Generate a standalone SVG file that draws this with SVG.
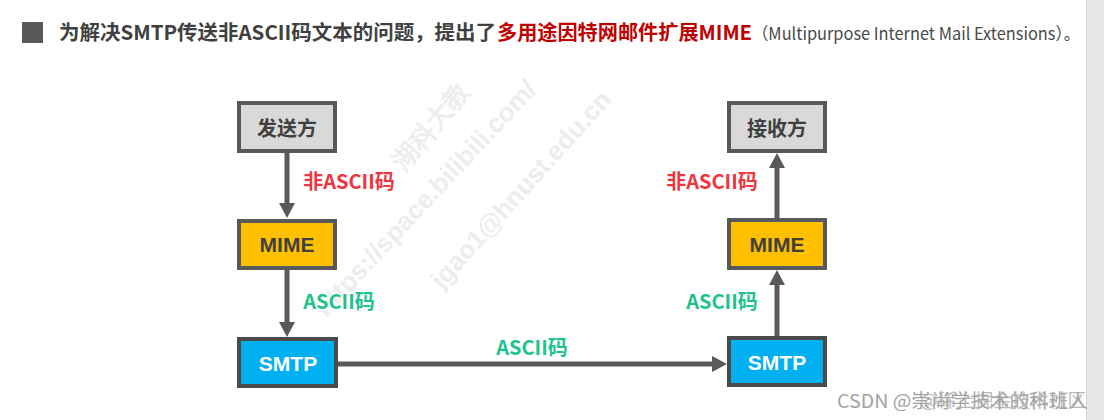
<svg xmlns="http://www.w3.org/2000/svg" width="1104" height="420" viewBox="0 0 1104 420">
<style>
.cjk{font-family:"Noto Sans CJK SC","Noto Sans",sans-serif;}
.node-grey{fill:#d9d9d9;stroke:#595959;stroke-width:4;}
.node-mime{fill:#ffc000;stroke:#595959;stroke-width:4;}
.node-smtp{fill:#00b0f0;stroke:#4a4a4a;stroke-width:4;}
.ntext{font-family:"Noto Sans CJK SC","Noto Sans",sans-serif;font-weight:bold;font-size:20px;fill:#404040;text-anchor:middle;}
.ltext{font-family:"Liberation Sans",Arial,sans-serif;font-weight:bold;font-size:21px;text-anchor:middle;}
.conn{stroke:#595959;stroke-width:5;fill:none;marker-end:url(#ah);}
.lbl{font-family:"Noto Sans CJK SC","Noto Sans",sans-serif;font-weight:bold;font-size:20px;text-anchor:middle;stroke:#ffffff;stroke-width:3;paint-order:stroke;stroke-linejoin:round;}
.red{fill:#ee3640;}
.green{fill:#1fc28d;}
.wm{font-family:"Liberation Sans",Arial,sans-serif;font-weight:bold;font-size:26px;fill:#ededed;}
</style>
<defs>
<marker id="ah" markerUnits="userSpaceOnUse" markerWidth="16" markerHeight="16" viewBox="0 0 16 16" refX="2" refY="8" orient="auto">
<path d="M0,0 L15,8 L0,16 Z" fill="#595959"/>
</marker>
</defs>
<rect width="1104" height="420" fill="#ffffff"/>
<rect x="1086" y="0" width="18" height="420" fill="#e6e6e6"/>
<line x1="1086.5" y1="0" x2="1086.5" y2="420" stroke="#d6d6d6" stroke-width="1"/>

<g id="watermarks">
<text class="wm cjk" x="404" y="172" transform="rotate(-50 404 172)" font-size="28">湖科大教</text>
<text class="wm" x="326" y="318" transform="rotate(-47 326 318)">https://space.bilibili.com/</text>
<text class="wm" x="442" y="290" transform="rotate(-48 442 290)">jgao1@hnust.edu.cn</text>
</g>

<g id="title">
<rect x="22" y="22" width="21" height="21" fill="#595959"/>
<text class="cjk" x="59" y="40" font-size="20" font-weight="bold" fill="#404040" textLength="437" lengthAdjust="spacingAndGlyphs">为解决SMTP传送非ASCII码文本的问题，提出了</text>
<text class="cjk" x="497" y="40" font-size="20" font-weight="bold" fill="#c00000" textLength="255" lengthAdjust="spacingAndGlyphs">多用途因特网邮件扩展MIME</text>
<text class="cjk" x="752" y="40" font-size="17" fill="#4a4a4a" textLength="328" lengthAdjust="spacingAndGlyphs">（Multipurpose Internet Mail Extensions）。</text>
</g>

<g id="connectors">
<line class="conn" x1="287" y1="153" x2="287" y2="205"/>
<line class="conn" x1="287" y1="270" x2="287" y2="324"/>
<line class="conn" x1="338" y1="364" x2="714" y2="364"/>
<line class="conn" x1="777" y1="336" x2="777" y2="283"/>
<line class="conn" x1="777" y1="218" x2="777" y2="166"/>
<text class="lbl red" x="349" y="189">非ASCII码</text>
<text class="lbl green" x="339" y="309">ASCII码</text>
<text class="lbl green" x="532" y="355">ASCII码</text>
<text class="lbl red" x="712" y="189">非ASCII码</text>
<text class="lbl green" x="722" y="309">ASCII码</text>
</g>

<g id="sender">
<rect class="node-grey" x="239" y="103" width="96" height="48"/>
<text class="ntext" x="287" y="136">发送方</text>
</g>
<g id="mime-left">
<rect class="node-mime" x="239" y="221" width="96" height="47"/>
<text class="ltext" x="287" y="252" fill="#404040">MIME</text>
</g>
<g id="smtp-left">
<rect class="node-smtp" x="239" y="339" width="97" height="47"/>
<text class="ltext" x="288" y="371" fill="#ffffff">SMTP</text>
</g>
<g id="receiver">
<rect class="node-grey" x="729" y="103" width="96" height="48"/>
<text class="ntext" x="777" y="136">接收方</text>
</g>
<g id="mime-right">
<rect class="node-mime" x="729" y="220" width="96" height="48"/>
<text class="ltext" x="777" y="252" fill="#404040">MIME</text>
</g>
<g id="smtp-right">
<rect class="node-smtp" x="729" y="338" width="96" height="47"/>
<text class="ltext" x="777" y="370" fill="#ffffff">SMTP</text>
</g>

<g id="footer-watermark">
<text class="cjk" x="837" y="408" font-size="19" fill="#a3a3a3" textLength="251" lengthAdjust="spacingAndGlyphs">CSDN @崇尚学技术的科班人</text>
<text class="cjk" x="920" y="407" font-size="18" fill="#a8a8a8" opacity="0.8" textLength="166" lengthAdjust="spacingAndGlyphs">@稀土掘金技术社区</text>
</g>
</svg>
